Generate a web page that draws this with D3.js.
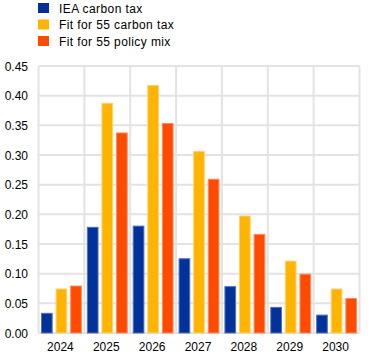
<!DOCTYPE html>
<html><head><meta charset="utf-8">
<script src="https://cdn.jsdelivr.net/npm/d3@7"></script>
<style>body{margin:0;background:#fff}svg{display:block}text{font-family:"Liberation Sans",Arial,sans-serif}</style>
</head><body><svg id="c" width="372" height="361"></svg>
<script>
const years = ["2024","2025","2026","2027","2028","2029","2030"];
const seriesNames = ["IEA carbon tax","Fit for 55 carbon tax","Fit for 55 policy mix"];
const ieaCarbonTax = [0.034,0.179,0.181,0.126,0.079,0.044,0.031];
const ff55CarbonTax = [0.075,0.388,0.418,0.307,0.198,0.122,0.075];
const ff55PolicyMix = [0.080,0.338,0.354,0.260,0.167,0.100,0.059];
const yTicks = [0,0.05,0.10,0.15,0.20,0.25,0.30,0.35,0.40,0.45];
const colors = ["#003299","#ffb400","#ff4b00"];
const strokes = ["#5570c0","#ffd070","#ff8a60"];

const svg = d3.select("#c");
const L = 38.5, R = 359.5, T = 66, B = 333;
const x = d3.scaleBand().domain(years).range([L,R]);
const x1 = d3.scaleBand().domain([0,1,2]).range([2.5, x.bandwidth()-2.5]).paddingInner(0.2);
const y = d3.scaleLinear().domain([0,0.45]).range([B,T]);

const grid = svg.append("g");
grid.selectAll("line.h").data(yTicks).join("line")
  .attr("x1",L).attr("x2",R).attr("y1",d=>y(d)).attr("y2",d=>y(d))
  .attr("stroke","#e3e3e3").attr("stroke-width",2);
grid.selectAll("line.v").data(years.concat(["end"])).join("line")
  .attr("x1",(d,i)=>L+i*x.bandwidth()).attr("x2",(d,i)=>L+i*x.bandwidth())
  .attr("y1",T).attr("y2",B)
  .attr("stroke","#e3e3e3").attr("stroke-width",2);

const all = [ieaCarbonTax, ff55CarbonTax, ff55PolicyMix];
years.forEach((yr,i)=>{
  const g = svg.append("g").attr("transform",`translate(${x(yr)},0)`);
  all.forEach((s,k)=>{
    g.append("rect")
      .attr("x",x1(k)+0.5).attr("width",x1.bandwidth()-1)
      .attr("y",y(s[i])+0.5).attr("height",B-y(s[i])-0.5)
      .attr("fill",colors[k]).attr("stroke",strokes[k]).attr("stroke-width",1);
  });
});

const yAxis = d3.axisLeft(y).tickValues(yTicks).tickFormat(d3.format(".2f")).tickSize(0).tickPadding(0);
const ya = svg.append("g").attr("transform",`translate(28,0)`).call(yAxis);
ya.select(".domain").remove();
ya.selectAll("text").attr("font-size",12).attr("fill","#000").attr("font-family","Liberation Sans, Arial, sans-serif").attr("dy","0.35em");

const xAxis = d3.axisBottom(x).tickSize(0).tickPadding(0);
const xa = svg.append("g").attr("transform",`translate(-1,${B+9})`).call(xAxis);
xa.select(".domain").remove();
xa.selectAll("text").attr("font-size",12).attr("fill","#000").attr("font-family","Liberation Sans, Arial, sans-serif");

const lg = svg.append("g");
seriesNames.forEach((n,k)=>{
  lg.append("rect").attr("x",38).attr("y",3+k*16.5).attr("width",11).attr("height",10).attr("fill",colors[k]);
  lg.append("text").attr("x",59).attr("y",12.5+k*16.5).attr("font-size",12).attr("letter-spacing","0.4px").text(n);
});
</script></body></html>
